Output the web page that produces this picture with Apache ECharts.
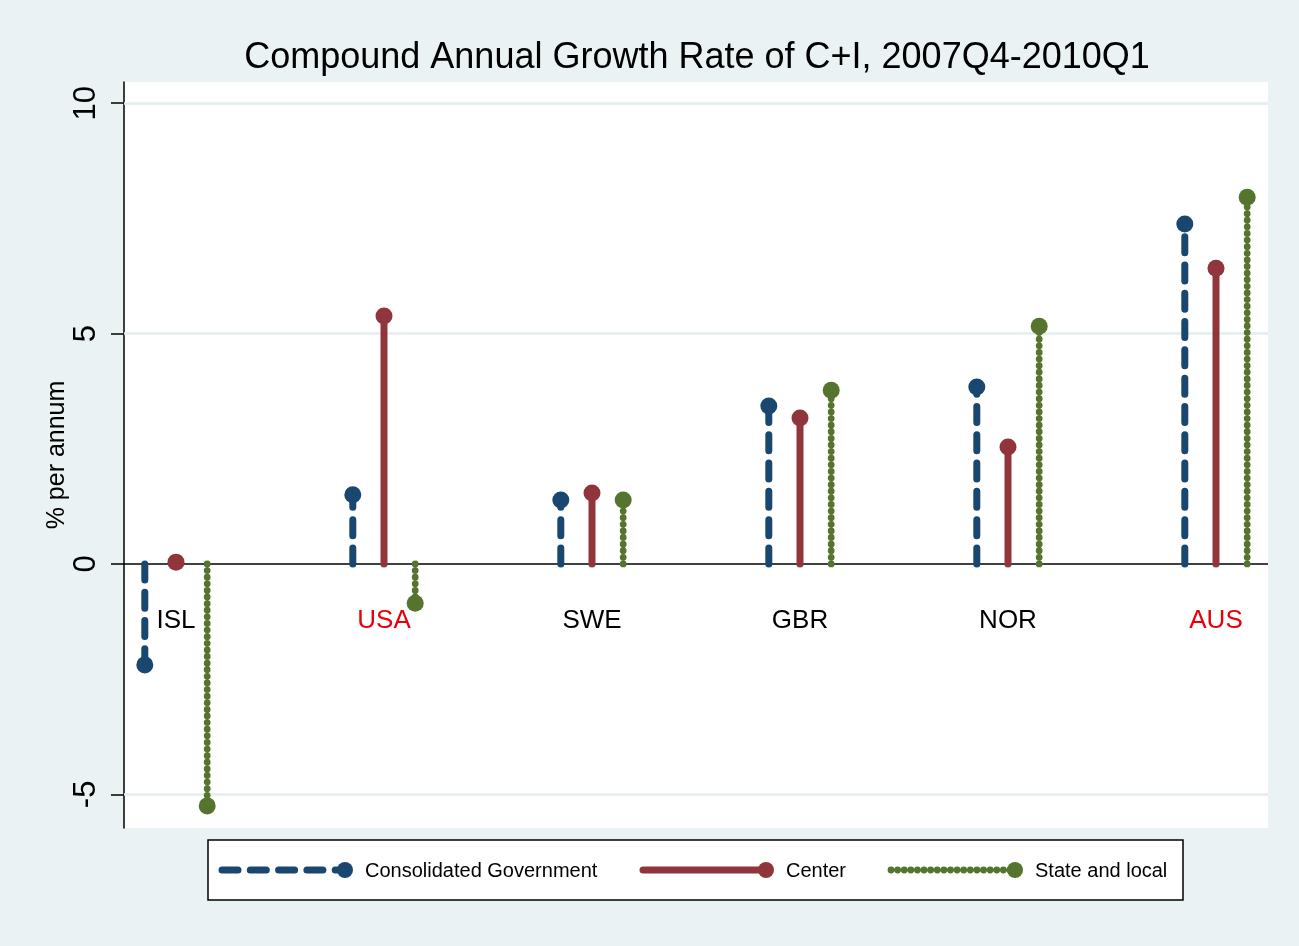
<!DOCTYPE html>
<html>
<head>
<meta charset="utf-8">
<script src="https://cdn.jsdelivr.net/npm/echarts@6/dist/echarts.min.js"></script>
<style>
html,body{margin:0;padding:0;background:#EAF2F3;}
#chart{width:1299px;height:946px;}
</style>
</head>
<body>
<div id="chart"></div>
<script>
const countries = ['ISL','USA','SWE','GBR','NOR','AUS'];
const highlighted = ['USA','AUS'];
const consolidated = [-2.19, 1.50, 1.39, 3.43, 3.84, 7.38];
const center = [0.04, 5.38, 1.54, 3.17, 2.54, 6.42];
const stateLocal = [-5.25, -0.85, 1.39, 3.77, 5.16, 7.96];
const yTicks = [-5, 0, 5, 10];
const gridLineValues = [-5, 5, 10];

const NAVY = '#1A476F', MAROON = '#90353B', GREEN = '#55752F';
const FONT = 'Liberation Sans, Arial, Helvetica, sans-serif';

function dashStyle(color, dash) {
  return { stroke: color, lineWidth: dash === 'dot' ? 6.8 : 7, lineCap: 'round',
           lineDash: dash === 'dash' ? [16, 12.3] : dash === 'dot' ? [0.01, 6.6] : null };
}

function stemSeries(name, values, offset, color, dash) {
  return {
    type: 'custom', name: name, clip: false, z: 5,
    data: values.map((v, i) => [i + 1 + offset, v]),
    renderItem: function (params, api) {
      const x = api.value(0), v = api.value(1);
      const p0 = api.coord([x, 0]);
      const p1 = api.coord([x, v]);
      return {
        type: 'group',
        children: [
          { type: 'line', shape: { x1: p0[0], y1: p0[1], x2: p1[0], y2: p1[1] }, style: dashStyle(color, dash) },
          { type: 'circle', shape: { cx: p1[0], cy: p1[1], r: 8.5 }, style: { fill: color } }
        ]
      };
    }
  };
}

function legendKey(x1, x2, y, color, dash, label) {
  return [
    { type: 'line', shape: { x1: x1, y1: y, x2: x2, y2: y }, style: dashStyle(color, dash) },
    { type: 'circle', shape: { cx: x2 + 4, cy: y, r: 8 }, style: { fill: color } },
    { type: 'text', x: x2 + 24, y: y + 1, style: { text: label, fill: '#000', font: '20px ' + FONT, textVerticalAlign: 'middle' } }
  ];
}

const chart = echarts.init(document.getElementById('chart'));
chart.setOption({
  backgroundColor: '#EAF2F3',
  animation: false,
  title: {
    text: 'Compound Annual Growth Rate of C+I, 2007Q4-2010Q1',
    left: 692, top: 35, textAlign: 'center',
    textStyle: { fontFamily: FONT, fontSize: 36, fontWeight: 'normal', color: '#000' }
  },
  grid: { left: 124, right: 31, top: 82, bottom: 118, show: true, backgroundColor: '#fff', borderWidth: 0 },
  xAxis: { type: 'value', min: 0.75, max: 6.25, show: false },
  yAxis: {
    type: 'value', min: -5.73, max: 10.46,
    name: '% per annum', nameLocation: 'middle', nameRotate: 90, nameGap: 54, nameMoveOverlap: false,
    nameTextStyle: { fontFamily: FONT, fontSize: 25, color: '#000' },
    axisLine: { show: true, lineStyle: { color: '#000', width: 1.5 } },
    axisTick: { show: true, length: 13, customValues: yTicks, lineStyle: { color: '#000', width: 1.5 } },
    axisLabel: { customValues: yTicks, rotate: 90, margin: 22, fontFamily: FONT, fontSize: 31, color: '#000' },
    splitLine: { show: false }
  },
  graphic: [
    { type: 'rect', shape: { x: 208, y: 840, width: 975, height: 60 },
      style: { fill: '#fff', stroke: '#000', lineWidth: 1.5 } },
    ...legendKey(222, 341, 870, NAVY, 'dash', 'Consolidated Government'),
    ...legendKey(643, 762, 870, MAROON, 'solid', 'Center'),
    ...legendKey(891, 1011, 870, GREEN, 'dot', 'State and local')
  ],
  series: [
    {
      type: 'scatter', symbolSize: 0, z: 3, silent: true,
      itemStyle: { opacity: 1 },
      data: countries.map((c, i) => ({
        value: [i + 1, -1.23],
        label: { show: true, position: 'inside', formatter: c,
                 fontFamily: FONT, fontSize: 26, textBorderWidth: 0,
                 color: highlighted.indexOf(c) >= 0 ? '#E8000B' : '#000' }
      })),
      markLine: {
        silent: true, symbol: 'none', label: { show: false }, animation: false,
        data: gridLineValues.map(v => ({ yAxis: v, lineStyle: { color: '#E4EDEF', width: 2.5, type: 'solid' } }))
          .concat([{ yAxis: 0, lineStyle: { color: '#000', width: 1.5, type: 'solid' } }])
      }
    },
    stemSeries('Consolidated Government', consolidated, -0.15, NAVY, 'dash'),
    stemSeries('Center', center, 0, MAROON, 'solid'),
    stemSeries('State and local', stateLocal, 0.15, GREEN, 'dot')
  ]
});
</script>
</body>
</html>
